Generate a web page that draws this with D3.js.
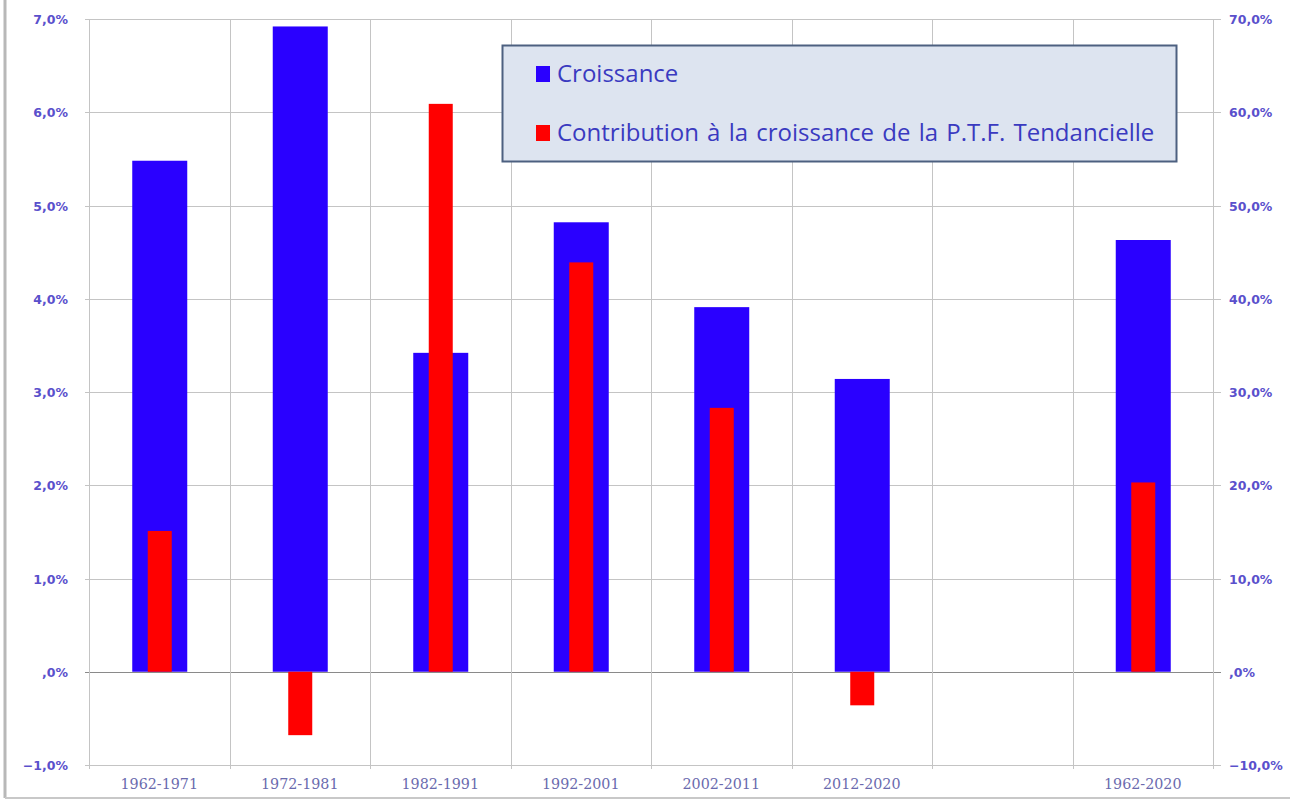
<!DOCTYPE html>
<html>
<head>
<meta charset="utf-8">
<script src="https://cdn.jsdelivr.net/npm/d3@7"></script>
<style>
  html, body { margin: 0; padding: 0; background: #fff; }
  svg { display: block; }
</style>
</head>
<body>
<svg id="chart" width="1290" height="801"></svg>
<script>
// Periods on the x axis (one slot left empty before the full-period bar)
const periods = ["1962-1971", "1972-1981", "1982-1991", "1992-2001", "2002-2011", "2012-2020", "", "1962-2020"];
// Growth rate, % (left axis)
const croissance = [5.48, 6.92, 3.42, 4.82, 3.91, 3.14, null, 4.63];
// Contribution of trend TFP to growth, % (right axis)
const contributionPTF = [15.1, -6.8, 60.9, 43.9, 28.3, -3.6, null, 20.3];
// Axis ticks
const leftTicks = [-1, 0, 1, 2, 3, 4, 5, 6, 7];
const rightTicks = [-10, 0, 10, 20, 30, 40, 50, 60, 70];
const seriesNames = ["Croissance", "Contribution à la croissance de la P.T.F. Tendancielle"];
const seriesColors = ["#2a00ff", "#ff0000"];

const svg = d3.select("#chart");
const m = { left: 89, right: 1213, top: 19, bottom: 765 };

const x = d3.scaleBand().domain(d3.range(periods.length)).range([m.left, m.right]).paddingInner(0).paddingOuter(0);
const yL = d3.scaleLinear().domain([-1, 7]).range([m.bottom, m.top]);
const yR = d3.scaleLinear().domain([-10, 70]).range([m.bottom, m.top]);

const fmt = v => (v === 0 ? ",0%" : d3.format(".1f")(v).replace(".", ",") + "%");

// Outer frame
svg.append("line").attr("x1", 5).attr("x2", 5).attr("y1", 0).attr("y2", 798)
  .attr("stroke", "#b8b8b8").attr("stroke-width", 3);
svg.append("line").attr("x1", 5).attr("x2", 1290).attr("y1", 798).attr("y2", 798)
  .attr("stroke", "#c8c8c8").attr("stroke-width", 2);

// Horizontal gridlines
svg.append("g").selectAll("line").data(leftTicks).join("line")
  .attr("x1", m.left - 4).attr("x2", m.right + 8)
  .attr("y1", d => Math.round(yL(d)) + 0.5).attr("y2", d => Math.round(yL(d)) + 0.5)
  .attr("stroke", d => d === 0 ? "#8a8a8a" : "#c4c4c4").attr("stroke-width", 1);

// Vertical gridlines at slot boundaries
const bounds = d3.range(periods.length + 1).map(i => i < periods.length ? x(i) : m.right);
svg.append("g").selectAll("line").data(bounds).join("line")
  .attr("x1", d => Math.round(d) + 0.5).attr("x2", d => Math.round(d) + 0.5)
  .attr("y1", m.top).attr("y2", m.bottom + 4)
  .attr("stroke", "#c4c4c4").attr("stroke-width", 1);

const idx = d3.range(periods.length);
const bw = 55, rw = 24;

// Growth bars (left axis)
svg.append("g").selectAll("rect").data(idx.filter(i => croissance[i] != null)).join("rect")
  .attr("x", i => x(i) + x.bandwidth() / 2 - bw / 2 + 0.5)
  .attr("width", bw)
  .attr("y", i => yL(Math.max(0, croissance[i])))
  .attr("height", i => Math.abs(yL(croissance[i]) - yL(0)))
  .attr("fill", seriesColors[0]);

// TFP contribution bars (right axis)
svg.append("g").selectAll("rect").data(idx.filter(i => contributionPTF[i] != null)).join("rect")
  .attr("x", i => x(i) + x.bandwidth() / 2 - rw / 2 + 0.5)
  .attr("width", rw)
  .attr("y", i => yR(Math.max(0, contributionPTF[i])))
  .attr("height", i => Math.abs(yR(contributionPTF[i]) - yR(0)))
  .attr("fill", seriesColors[1]);

// Left axis labels
svg.append("g").selectAll("text").data(leftTicks).join("text")
  .attr("x", 68).attr("y", d => yL(d) + 5)
  .attr("text-anchor", "end")
  .attr("font-family", "DejaVu Sans, Verdana, sans-serif")
  .attr("font-size", 12.5).attr("font-weight", "bold").attr("fill", "#5a50cc")
  .text(fmt);

// Right axis labels
svg.append("g").selectAll("text").data(rightTicks).join("text")
  .attr("x", 1229).attr("y", d => yR(d) + 5)
  .attr("text-anchor", "start")
  .attr("font-family", "DejaVu Sans, Verdana, sans-serif")
  .attr("font-size", 12.5).attr("font-weight", "bold").attr("fill", "#5a50cc")
  .text(fmt);

// Category labels
svg.append("g").selectAll("text").data(idx).join("text")
  .attr("x", i => x(i) + x.bandwidth() / 2)
  .attr("y", 789)
  .attr("text-anchor", "middle")
  .attr("font-family", "DejaVu Serif, serif")
  .attr("font-size", 14.3).attr("fill", "#6a6aae")
  .text(i => periods[i]);

// Legend
const lg = svg.append("g");
lg.append("rect").attr("x", 502.5).attr("y", 45.5).attr("width", 674).attr("height", 116)
  .attr("fill", "#dde4f0").attr("stroke", "#4d6080").attr("stroke-width", 2);
seriesNames.forEach((name, i) => {
  const yy = 74 + i * 59;
  lg.append("rect").attr("x", 536).attr("y", yy - 8).attr("width", 14).attr("height", 16)
    .attr("fill", seriesColors[i]);
  lg.append("text").attr("x", 557).attr("y", yy + 8)
    .attr("font-family", "Open Sans, Liberation Sans, sans-serif")
    .attr("font-size", 24).attr("fill", "#3a3ac0")
    .attr("word-spacing", i === 1 ? 2 : 0)
    .text(name);
});
</script>
</body>
</html>
